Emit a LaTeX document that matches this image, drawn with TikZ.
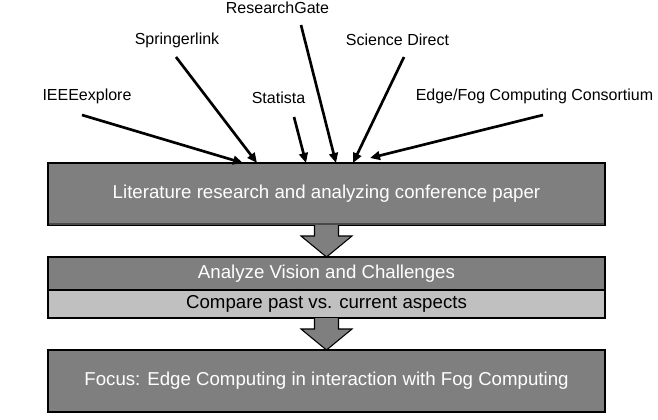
\documentclass[tikz,border=0pt]{standalone}
\usepackage{fontspec}
\setmainfont{Liberation Sans}
\usetikzlibrary{arrows.meta,calc}
\definecolor{boxgray}{HTML}{7F7F7F}
\definecolor{lightgray}{HTML}{C0C0C0}
\definecolor{shadegray}{HTML}{4A4A4A}
\tikzset{
  src/.style={inner sep=0pt,font=\fontsize{12}{14}\selectfont},
  feed/.style={line width=2pt,-{Triangle[length=7.5pt,width=6.5pt]}},
  stage/.style={draw=black,line width=1.1pt,fill=boxgray,text=white,inner sep=0pt,outer sep=0pt,
    minimum width=417.75pt,font=\fontsize{14}{17}\selectfont},
  substage/.style={stage,fill=lightgray,text=black},
  blockarrow/.style={draw=black,line width=0.8pt,fill=boxgray}
}
\begin{document}
\begin{tikzpicture}[x=0.75pt,y=-0.75pt]
\useasboundingbox (0,0) rectangle (658,419);

\node[stage,minimum height=46.5pt] (lit) at (326.5,194) {Literature research and analyzing conference paper};
\draw[shadegray,line width=1.2pt] ($(lit.south west)+(1,-1)$) -- ($(lit.south east)+(-1,-1)$);
\node[stage,minimum height=24.75pt] (ana) at (326.5,273.5) {Analyze Vision and Challenges};
\node[substage,minimum height=21pt] (cmp) at (326.5,304) {Compare past vs. current aspects};
\node[stage,minimum height=46.5pt] (foc) at (326.5,381) {Focus: Edge Computing in interaction with Fog Computing};

% Quellen
\foreach \n/\t/\x/\y in {ieee/IEEEexplore/87/96,spr/Springerlink/177/40,rg/ResearchGate/277.5/7.5,
    sta/Statista/278.5/97.5,sd/Science Direct/397.5/40,efc/{Edge/Fog Computing Consortium}/534.5/96.5}
    \node[src] (\n) at (\x,\y) {\t};

\foreach \n/\sx/\sy/\ex/\ey in {ieee/82/115/243/163,spr/176/57/257/163,sta/294/117/306/163,
    rg/301/25/336/163,sd/404/57/353/163,efc/543/115/370/158}
{
    \coordinate (\n-a) at (\sx,\sy);
    \coordinate (\n-b) at (\ex,\ey);
    \draw[feed] (\n-a) -- (\n-b);
}

\foreach \a/\b in {lit/ana,cmp/foc}
    \draw[blockarrow] ($(\a.south)+(-12,0)$) -- ($(\a.south)+(-12,11)$) -- ($(\a.south)+(-25.5,11)$)
        -- (\b.north) -- ($(\a.south)+(25.5,11)$) -- ($(\a.south)+(12,11)$) -- ($(\a.south)+(12,0)$);
\end{tikzpicture}
\end{document}
